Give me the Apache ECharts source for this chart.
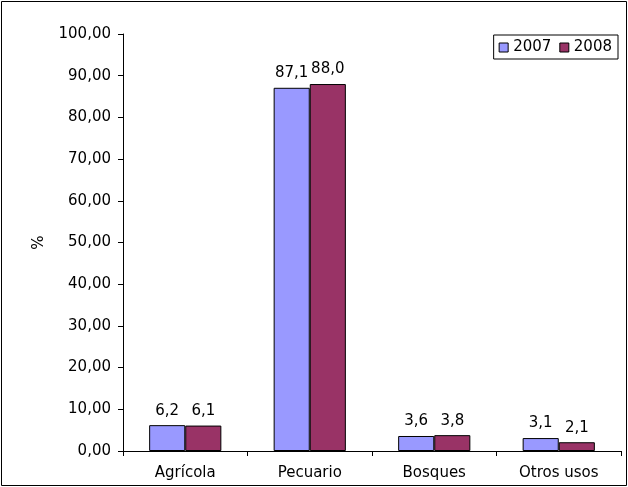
<!DOCTYPE html>
<html><head><meta charset="utf-8">
<script src="https://cdn.jsdelivr.net/npm/echarts@6/dist/echarts.min.js"></script>
<style>html,body{margin:0;padding:0;background:#fff}#c{width:628px;height:487px}</style>
</head><body><div id="c"></div>
<script>
const categories = ["Agrícola", "Pecuario", "Bosques", "Otros usos"];
const seriesNames = ["2007", "2008"];
const values2007 = [6.2, 87.1, 3.6, 3.1];
const values2008 = [6.1, 88.0, 3.8, 2.1];
const colors = ["#9999FF", "#993366"];
const font = "Verdana, 'DejaVu Sans', sans-serif";
const fmt1 = v => v.toFixed(1).replace('.', ',');
const fmt2 = v => v.toFixed(2).replace('.', ',');

const chart = echarts.init(document.getElementById('c'), null, {renderer: 'canvas'});
function mk(name, data, color) {
  return {
    name, type: 'bar', data, barGap: '0%', barCategoryGap: '42%',
    itemStyle: {color, borderColor: '#000', borderWidth: 1},
    label: {show: true, position: 'top', distance: 7, color: '#000', fontFamily: font, fontSize: 15,
      formatter: p => fmt1(p.value)},
    emphasis: {disabled: true}
  };
}
chart.setOption({
  animation: false,
  backgroundColor: '#fff',
  grid: {left: 123, right: 7, top: 34, bottom: 36, containLabel: false},
  legend: {
    data: seriesNames, right: 10, top: 35, orient: 'horizontal',
    itemWidth: 9, itemHeight: 9, itemGap: 8, icon: 'rect',
    itemStyle: {borderColor: '#000', borderWidth: 1},
    textStyle: {fontFamily: font, fontSize: 15, color: '#000'},
    padding: [5, 6, 4, 5], borderColor: '#000', borderWidth: 1, borderRadius: 0
  },
  xAxis: {
    type: 'category', data: categories,
    axisLine: {lineStyle: {color: '#000', width: 1}},
    axisTick: {show: true, length: 5, alignWithLabel: false, lineStyle: {color: '#000'}},
    axisLabel: {fontFamily: font, fontSize: 15, color: '#000', margin: 15}
  },
  yAxis: {
    type: 'value', min: 0, max: 100, interval: 10,
    name: '%', nameLocation: 'middle', nameGap: 76, nameRotate: 90,
    nameTextStyle: {fontFamily: font, fontSize: 15, color: '#000'},
    axisLine: {show: true, lineStyle: {color: '#000', width: 1}},
    axisTick: {show: true, length: 5, lineStyle: {color: '#000'}},
    splitLine: {show: false},
    axisLabel: {fontFamily: font, fontSize: 15, color: '#000', margin: 12, formatter: v => fmt2(v)}
  },
  series: [mk(seriesNames[0], values2007, colors[0]), mk(seriesNames[1], values2008, colors[1])],
  graphic: [{type: 'rect', shape: {x: 1.5, y: 1.5, width: 625, height: 484}, style: {fill: 'none', stroke: '#000', lineWidth: 1}, silent: true}]
});
</script></body></html>
